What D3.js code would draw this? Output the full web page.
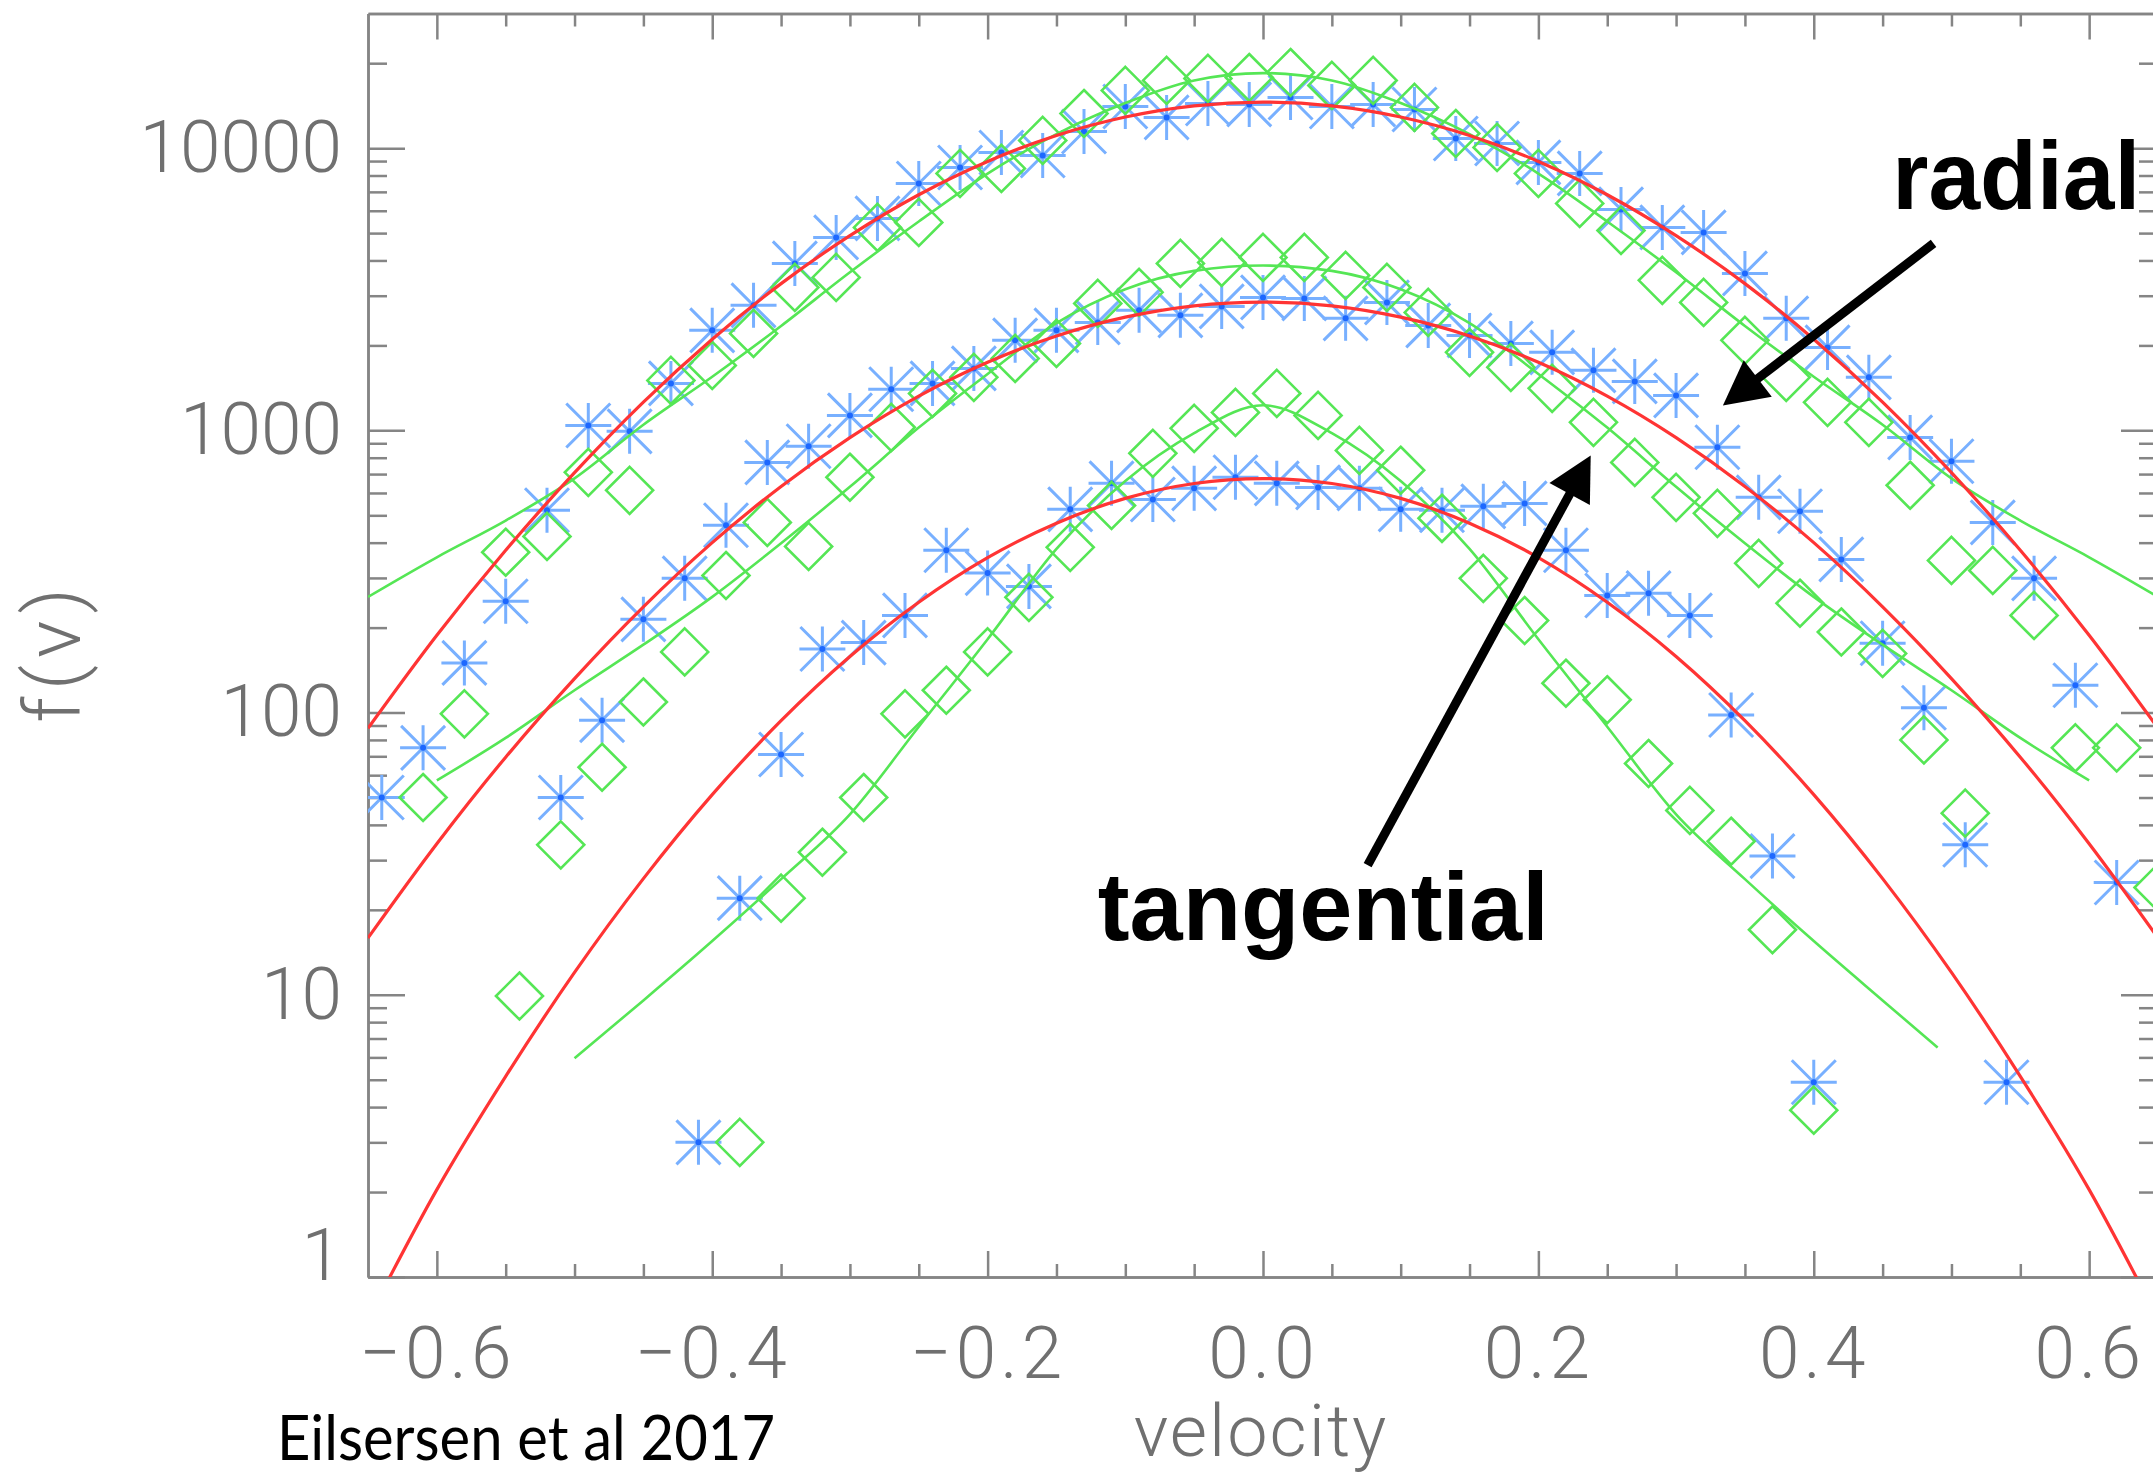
<!DOCTYPE html>
<html>
<head>
<meta charset="utf-8">
<script src="https://cdn.jsdelivr.net/npm/d3@7"></script>
<style>
	body { margin: 0; background: #fff; }
	svg { display: block; }
</style>
</head>
<body>
<svg id="chart"></svg>
<script>

// DATA

// velocity bins, each group is shifted a little in v
var binsTop = [-0.64,-0.61,-0.58,-0.55,-0.52,-0.49,-0.46,-0.43,-0.40,-0.37,-0.34,-0.31,-0.28,-0.25,-0.22,-0.19,-0.16,-0.13,-0.10,-0.07,-0.04,-0.01,0.02,0.05,0.08,0.11,0.14,0.17,0.20,0.23,0.26,0.29,0.32,0.35,0.38,0.41,0.44,0.47,0.50,0.53,0.56,0.59,0.62,0.65]
var binsMid = [-0.63,-0.60,-0.57,-0.54,-0.51,-0.48,-0.45,-0.42,-0.39,-0.36,-0.33,-0.30,-0.27,-0.24,-0.21,-0.18,-0.15,-0.12,-0.09,-0.06,-0.03,0.00,0.03,0.06,0.09,0.12,0.15,0.18,0.21,0.24,0.27,0.30,0.33,0.36,0.39,0.42,0.45,0.48,0.51,0.54,0.57,0.60,0.63]
var binsLow = [-0.62,-0.59,-0.56,-0.53,-0.50,-0.47,-0.44,-0.41,-0.38,-0.35,-0.32,-0.29,-0.26,-0.23,-0.20,-0.17,-0.14,-0.11,-0.08,-0.05,-0.02,0.01,0.04,0.07,0.10,0.13,0.16,0.19,0.22,0.25,0.28,0.31,0.34,0.37,0.40,0.43,0.46,0.49,0.52,0.55,0.58,0.61,0.64]

// radial (asterisks)
var radialTop = [50,75,150,248,521,1041,992,1467,2261,2773,3905,4828,5636,7497,8544,9656,9422,11460,14050,12850,14400,14290,15120,14050,14290,13710,10820,10390,8900,8137,6066,5238,5029,3599,2494,1968,1541,944,777,472,299,125,25,null]
var radialMid = [null,null,null,null,50,94,214,299,461,770,878,1130,1398,1467,1658,2084,2261,2413,2662,2556,2750,2959,2935,2494,2841,2355,2170,2033,1890,1632,1491,1330,871,579,517,349,176,104,34,4.9,null,null,null]
var radialLow = [null,null,null,null,null,null,null,3.0,22,71,168,177,221,376,312,280,525,649,569,623,682,649,628,623,525,521,538,551,376,260,265,221,98,31,4.9,null,null,null,null,null,null,null,null]

// tangential (diamonds)
var tangTop = [null,50,99,370,421,710,613,1503,1699,2206,3211,3483,5238,5455,8137,8475,10650,13270,16020,17380,17660,17800,18540,16680,17380,13940,11270,10060,8137,6371,5111,3400,2841,2084,1541,1257,1068,639,346,319,221,75,75,24]
var tangMid = [null,null,null,9.9,34,64,109,164,306,472,388,682,1025,1352,1541,1799,2033,2818,3083,3905,3937,4101,4101,3541,3211,2618,1890,1672,1409,1068,770,579,508,338,244,193,162,80,44,null,null,null,null]
var tangLow = [null,null,null,null,null,null,null,null,3.0,22,32,50,99,120,164,256,385,542,829,1017,1158,1352,1130,849,722,488,299,212,127,111,66,45,35,17,3.9,null,null,null,null,null,null,null,null]

// fit curves
var fitV = [-0.65,-0.60,-0.55,-0.50,-0.45,-0.40,-0.35,-0.30,-0.25,-0.20,-0.15,-0.10,-0.05,0.00,0.05,0.10,0.15,0.20,0.25,0.30,0.35,0.40,0.45,0.50,0.55,0.60,0.65]
var fitRadialTop = [88,188,376,708,1259,2104,3311,4898,6839,8974,11092,12894,14125,14555,14125,12894,11092,8974,6839,4898,3311,2104,1259,708,376,188,88]
var fitRadialMid = [15.9,34.3,69.5,132,237,400,633,943,1323,1743,2160,2518,2762,2848,2762,2518,2160,1743,1323,943,633,400,237,132,69.5,34.3,15.9]
var fitRadialLow = [0.71,2.04,5.14,12.0,25.8,51.2,93.6,158,246,354,469,574,648,675,648,574,469,354,246,158,93.6,51.2,25.8,12.0,5.14,2.04,0.71]
var fitTangTop = [257,355,479,676,1047,1549,2344,3631,5495,8128,11220,14454,17378,18450,17378,14454,11220,8128,5495,3631,2344,1549,1047,676,479,355,257]

var fitVMid = [-0.60,-0.55,-0.50,-0.45,-0.40,-0.35,-0.30,-0.25,-0.20,-0.15,-0.10,-0.05,0.00,0.05,0.10,0.15,0.20,0.25,0.30,0.35,0.40,0.45,0.50,0.55,0.60]
var fitTangMid = [57.5,81.3,120,174,257,398,631,1023,1585,2399,3162,3673,3837,3673,3162,2399,1585,1023,631,398,257,174,120,81.3,57.5]

var fitVLow = [-0.50,-0.45,-0.40,-0.35,-0.30,-0.25,-0.20,-0.15,-0.10,-0.05,0.00,0.05,0.10,0.15,0.20,0.25,0.30,0.35,0.40,0.45,0.49]
var fitTangLow = [5.96,9.55,15.5,25.7,43.6,89.1,182,380,661,977,1227,977,661,380,182,89.1,43.6,25.7,15.5,9.55,6.5]

// axis ticks
var xMajor = [-0.6,-0.4,-0.2,0.0,0.2,0.4,0.6]
var xMinor = [-0.55,-0.5,-0.45,-0.35,-0.3,-0.25,-0.15,-0.1,-0.05,0.05,0.1,0.15,0.25,0.3,0.35,0.45,0.5,0.55]
var yMajor = [1,10,100,1000,10000]
var yMinor = [2,3,4,5,6,7,8,9,20,30,40,50,60,70,80,90,200,300,400,500,600,700,800,900,2000,3000,4000,5000,6000,7000,8000,9000,20000]

// annotations: label at (v, f of baseline), arrows [v tail, f tail, v tip, f tip]
var notes = [
	{ text: 'radial', v: 0.457, f: 6110, len: 248 },
	{ text: 'tangential', v: -0.12, f: 15.6, len: 451 }
]
var arrows = [
	[0.487, 4597, 0.334, 1226],
	[0.076, 28.8, 0.238, 815]
]

// VIS

var width = 2153
var height = 1474

var svg = d3.select('#chart')
	.attr('width', width)
	.attr('height', height)

var x = d3.scaleLinear().domain([-0.65, 0.65]).range([368, 2158])
var y = d3.scaleLog().domain([1, 30000]).range([1277, 13.5])

var gray = '#858585'
var labelFont = 'Roboto, "Open Sans", sans-serif'

function style_axis(g){
	g.attr('font-family', labelFont).attr('font-size', 73)
	g.select('.domain').attr('stroke', gray).attr('stroke-width', 2.5)
	g.selectAll('.tick line').attr('stroke', gray).attr('stroke-width', 2.5)
	g.selectAll('.tick text').attr('fill', '#707070').attr('font-weight', 300)
}

// y axes (left with labels, right mirrored)
var left = svg.append('g')
	.attr('transform', 'translate(' + x.range()[0] + ',0)')
	.call(d3.axisLeft(y).tickValues(yMajor).tickFormat(function(d){ return d }).tickSize(-37).tickSizeOuter(0).tickPadding(26))
	.call(style_axis)

// the bottom label sits on the axis like in the figure
left.selectAll('.tick text').filter(function(d){ return d === 1 }).attr('dy', '0.03em')

svg.append('g')
	.attr('transform', 'translate(' + x.range()[0] + ',0)')
	.call(d3.axisLeft(y).tickValues(yMinor).tickFormat('').tickSize(-19).tickSizeOuter(0))
	.call(style_axis)

svg.append('g')
	.attr('transform', 'translate(' + x.range()[1] + ',0)')
	.call(d3.axisRight(y).tickValues(yMajor).tickFormat('').tickSize(-37).tickSizeOuter(0))
	.call(style_axis)

svg.append('g')
	.attr('transform', 'translate(' + x.range()[1] + ',0)')
	.call(d3.axisRight(y).tickValues(yMinor).tickFormat('').tickSize(-19).tickSizeOuter(0))
	.call(style_axis)

// x axes
svg.append('g')
	.attr('transform', 'translate(0,' + y.range()[0] + ')')
	.call(d3.axisBottom(x).tickValues(xMajor).tickFormat(d3.format('.1f')).tickSize(-26).tickSizeOuter(0).tickPadding(49))
	.call(style_axis)
	.selectAll('.tick text').attr('letter-spacing', 4)

svg.append('g')
	.attr('transform', 'translate(0,' + y.range()[0] + ')')
	.call(d3.axisBottom(x).tickValues(xMinor).tickFormat('').tickSize(-13).tickSizeOuter(0))
	.call(style_axis)

svg.append('g')
	.attr('transform', 'translate(0,' + y.range()[1] + ')')
	.call(d3.axisTop(x).tickValues(xMajor).tickFormat('').tickSize(-26).tickSizeOuter(0))
	.call(style_axis)

svg.append('g')
	.attr('transform', 'translate(0,' + y.range()[1] + ')')
	.call(d3.axisTop(x).tickValues(xMinor).tickFormat('').tickSize(-13).tickSizeOuter(0))
	.call(style_axis)

// axis titles
svg.append('text')
	.attr('x', 1261).attr('y', 1456)
	.attr('text-anchor', 'middle')
	.attr('font-family', labelFont).attr('font-weight', 300).attr('font-size', 72)
	.attr('letter-spacing', 2)
	.attr('fill', '#707070')
	.text('velocity')

svg.append('text')
	.attr('transform', 'translate(80,652) rotate(-90)')
	.attr('text-anchor', 'middle')
	.attr('font-family', labelFont).attr('font-weight', 300).attr('font-size', 78)
	.attr('letter-spacing', 7)
	.attr('fill', '#707070')
	.text('f(v)')

// PLOT

svg.append('clipPath').attr('id', 'plotclip')
	.append('rect')
	.attr('x', x.range()[0]).attr('y', y.range()[1])
	.attr('width', x.range()[1] - x.range()[0])
	.attr('height', y.range()[0] - y.range()[1])

var plot = svg.append('g').attr('clip-path', 'url(#plotclip)')

function pairs(vs, fs){
	return vs.map(function(v, i){ return [v, fs[i]] })
		.filter(function(d){ return d[1] != null })
}

var star = 'M0,-22.5V22.5M-23,0H23M-22,-22L22,22M-22,22L22,-22'
var diamond = 'M0,-23.5L23.5,0L0,23.5L-23.5,0Z'

var radial = [[binsTop, radialTop], [binsMid, radialMid], [binsLow, radialLow]]
var tangential = [[binsTop, tangTop], [binsMid, tangMid], [binsLow, tangLow]]

radial.forEach(function(s){
	var g = plot.append('g').selectAll('g')
		.data(pairs(s[0], s[1]))
		.enter().append('g')
		.attr('transform', function(d){ return 'translate(' + x(d[0]) + ',' + y(d[1]) + ')' })
	g.append('path')
		.attr('d', star)
		.attr('fill', 'none')
		.attr('stroke', '#78b0ff')
		.attr('stroke-width', 3)
	g.append('circle')
		.attr('r', 3)
		.attr('fill', '#1d68ff')
})

tangential.forEach(function(s){
	plot.append('g').selectAll('path')
		.data(pairs(s[0], s[1]))
		.enter().append('path')
		.attr('transform', function(d){ return 'translate(' + x(d[0]) + ',' + y(d[1]) + ')' })
		.attr('d', diamond)
		.attr('fill', 'none')
		.attr('stroke', '#55e655')
		.attr('stroke-width', 2.6)
})

var line = d3.line()
	.x(function(d){ return x(d[0]) })
	.y(function(d){ return y(d[1]) })
	.curve(d3.curveMonotoneX)

var greenFits = [[fitV, fitTangTop], [fitVMid, fitTangMid], [fitVLow, fitTangLow]]
var redFits = [[fitV, fitRadialTop], [fitV, fitRadialMid], [fitV, fitRadialLow]]

greenFits.forEach(function(s){
	plot.append('path')
		.datum(pairs(s[0], s[1]))
		.attr('d', line)
		.attr('fill', 'none')
		.attr('stroke', '#55e655')
		.attr('stroke-width', 2.6)
})

redFits.forEach(function(s){
	plot.append('path')
		.datum(pairs(s[0], s[1]))
		.attr('d', line)
		.attr('fill', 'none')
		.attr('stroke', '#ff3434')
		.attr('stroke-width', 3.2)
})

// ANNOTATIONS

arrows.forEach(function(a){
	var x0 = x(a[0]), y0 = y(a[1]), x1 = x(a[2]), y1 = y(a[3])
	var dx = x1 - x0, dy = y1 - y0
	var n = Math.sqrt(dx * dx + dy * dy)
	var ux = dx / n, uy = dy / n
	var head = 44, half = 23
	var bx = x1 - ux * head, by = y1 - uy * head
	svg.append('line')
		.attr('x1', x0).attr('y1', y0)
		.attr('x2', bx + ux * 2).attr('y2', by + uy * 2)
		.attr('stroke', '#000')
		.attr('stroke-width', 9)
	svg.append('path')
		.attr('d', 'M' + x1 + ',' + y1 +
			'L' + (bx - uy * half) + ',' + (by + ux * half) +
			'L' + (bx + uy * half) + ',' + (by - ux * half) + 'Z')
		.attr('fill', '#000')
})

svg.selectAll('.note')
	.data(notes)
	.enter().append('text')
	.attr('class', 'note')
	.attr('x', function(d){ return x(d.v) })
	.attr('y', function(d){ return y(d.f) })
	.attr('font-family', '"Liberation Sans", Arial, sans-serif')
	.attr('font-weight', 'bold')
	.attr('font-size', 97)
	.attr('textLength', function(d){ return d.len })
	.attr('lengthAdjust', 'spacingAndGlyphs')
	.attr('fill', '#000')
	.text(function(d){ return d.text })

svg.append('text')
	.attr('x', 277).attr('y', 1460)
	.attr('font-family', 'Lato, "Open Sans", sans-serif')
	.attr('font-size', 62)
	.attr('textLength', 498)
	.attr('lengthAdjust', 'spacingAndGlyphs')
	.attr('fill', '#000')
	.text('Eilsersen et al 2017')

</script>
</body>
</html>
